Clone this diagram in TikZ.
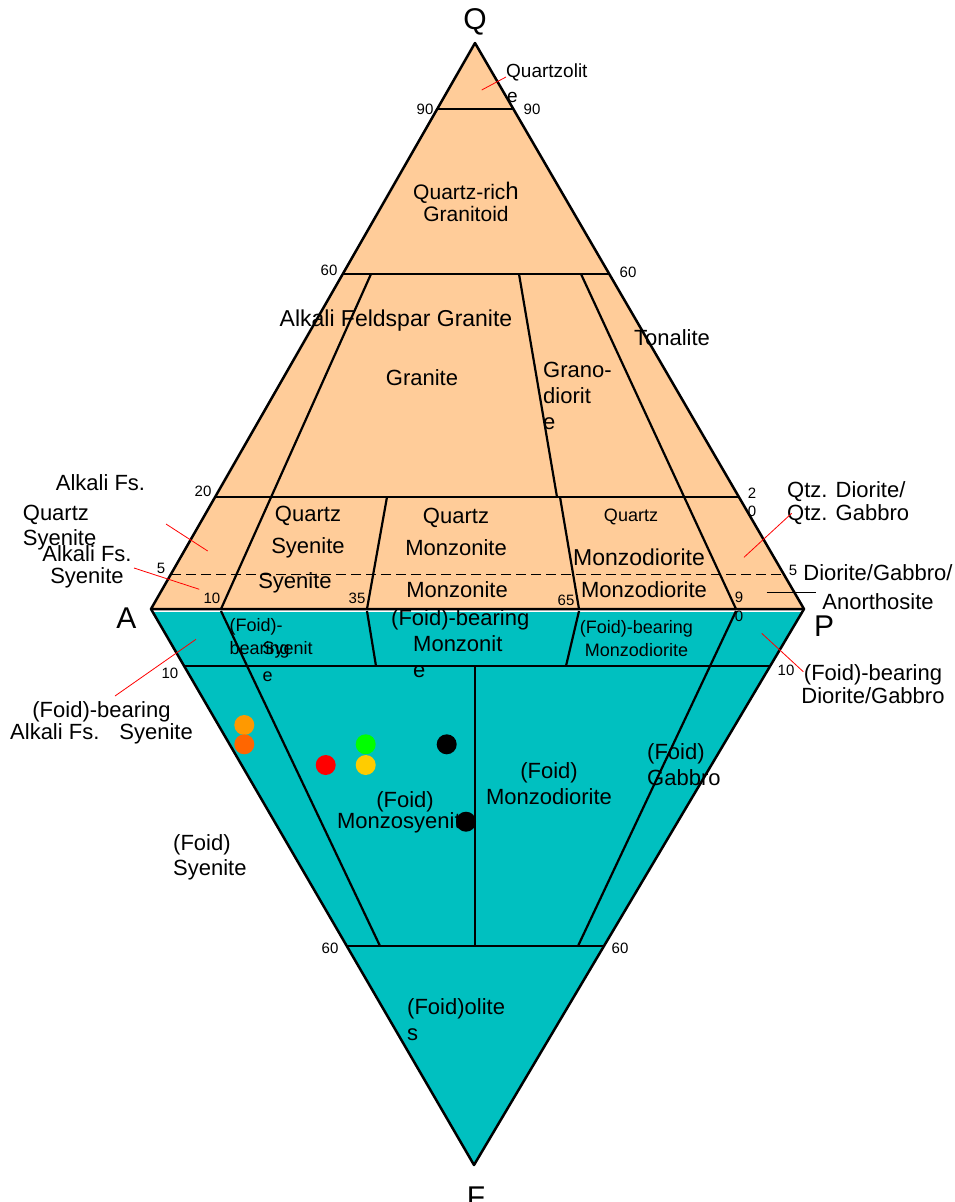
\documentclass[tikz,border=0pt]{standalone}
\usepackage{fontspec}
\setmainfont{Liberation Sans}
\usetikzlibrary{calc}
\definecolor{qfill}{HTML}{FFCC99}
\definecolor{ffill}{HTML}{00C0C0}
\definecolor{smpA}{HTML}{FF9900}
\definecolor{smpB}{HTML}{FF6600}
\definecolor{smpC}{HTML}{FF0000}
\definecolor{smpD}{HTML}{00FF00}
\definecolor{smpE}{HTML}{FFCC00}

\begin{document}
\begin{tikzpicture}[
    x=1pt, y=-1pt,
    lbl/.style={font=\fontsize{22}{26}\selectfont, inner sep=0pt, align=center},
    sml/.style={font=\fontsize{18}{22}\selectfont, inner sep=0pt, align=center},
    num/.style={font=\fontsize{15}{17}\selectfont, inner sep=0pt, align=center},
    vtx/.style={font=\fontsize{30}{32}\selectfont, inner sep=0pt},
    edge/.style={line width=2.5pt, line join=round},
    bnd/.style={line width=2.2pt},
    leader/.style={red, line width=0.8pt},
    smp/.style={circle, minimum size=20pt, inner sep=0pt}
]
\useasboundingbox (0,0) rectangle (955,1202);

% corners
\coordinate (Q) at (475,43);
\coordinate (A) at (151,609);
\coordinate (P) at (804,609);
\coordinate (F) at (474,1165);

% fills
\fill[ffill, shift={(2.5,0.8)}] (A) -- (P) -- (F) -- cycle;
\fill[ffill] (A) -- (P) -- (F) -- cycle;
\fill[qfill] (Q) -- (A) -- (P) -- cycle;
\draw[white, line width=1.8pt] ([yshift=-2.1pt]A) -- ([yshift=-2.1pt]P);

% Q fields
\draw[bnd] ($(A)!0.8834!(Q)$) -- ($(P)!0.8834!(Q)$);
\draw[bnd] ($(A)!0.5919!(Q)$) -- ($(P)!0.5919!(Q)$);
\draw[bnd] ($(A)!0.1979!(Q)$) -- ($(P)!0.1979!(Q)$);
\draw[dashed, dash pattern=on 10pt off 5pt, line width=0.9pt] ($(A)!0.0618!(Q)$) -- ($(P)!0.0618!(Q)$);
\draw[bnd] (371,274) -- (221,609);
\draw[bnd] (519,274) -- (557,497);
\draw[bnd] (581,274) -- (736,609);
\draw[bnd] (387,497) -- (367,609);
\draw[bnd] (560,497) -- (579,609);

% F fields
\draw[bnd] ($(A)!0.1025!(F)$) -- ($(P)!0.1025!(F)$);
\draw[bnd] ($(A)!0.6061!(F)$) -- ($(P)!0.6061!(F)$);
\draw[bnd] (221,611) -- (380,946);
\draw[bnd] (367,611) -- (376,666);
\draw[bnd] (579,611) -- (566,666);
\draw[bnd] (736,611) -- (578,946);
\draw[bnd] (475,666) -- (475,946);

% outlines
\draw[edge] (Q) -- (A) -- (P) -- cycle;
\draw[edge] (A) -- (F) -- (P);

% corner letters
\node[vtx] (lQ) at (475,22) {Q};
\node[vtx] (lA) at (126.5,618) {A};
\node[vtx] (lP) at (824,626) {P};
\node[vtx] (lF) at (476,1197) {F};

% scale numbers
\node[num] (n90l) at (425,109.5) {90};
\node[num] (n90r) at (532,109.5) {90};
\node[num] (n60l) at (329,270.5) {60};
\node[num] (n60r) at (628,272) {60};
\node[num] (n20l) at (203,491) {20};
\node[num] (n20r) at (752,502.5) {2\\[1.4pt]0};
\node[num] (n5l) at (161,568) {5};
\node[num] (n5r) at (793,570) {5};
\node[num] (n10a) at (212,598) {10};
\node[num] (n35) at (357,598) {35};
\node[num] (n65) at (566,600) {65};
\node[num] (n90b) at (739,607) {9\\[2pt]0};
\node[num] (n10l) at (170,673) {10};
\node[num] (n10r) at (786,670) {10};
\node[num] (n60bl) at (330,948) {60};
\node[num] (n60br) at (620,948) {60};

% field names, upper triangle
\node[sml, font=\fontsize{19}{22}\selectfont, anchor=west] (qzl) at (506,72) {Quartzolit};
\node[sml, font=\fontsize{19}{22}\selectfont, anchor=west] (qzle) at (507,97) {e};
\node[lbl, font=\fontsize{21}{24}\selectfont] (qrg) at (466,202) {Quartz-ric{\fontsize{24}{24}\selectfont h}\\[-2pt]Granitoid};
\node[lbl, font=\fontsize{23}{26}\selectfont] (afg) at (396,321) {Alkali Feldspar Granite};
\node[lbl] (gra) at (422,378) {Granite};
\node[lbl, align=left, anchor=west] (grd) at (543,396) {Grano-\\diorit\\e};
\node[lbl] (ton) at (672,338) {Tonalite};
\node[lbl] (qsy) at (308,532) {Quartz\\[6pt]Syenite};
\node[lbl] (sye) at (295,583) {Syenite};
\node[lbl] (qmo) at (456,532) {Quartz\\[6pt]Monzonite};
\node[lbl] (mon) at (457,590) {Monzonite};
\node[sml] (qmd) at (631,517) {Quartz};
\node[lbl, font=\fontsize{23}{26}\selectfont] (qmd2) at (639,557) {Monzodiorite};
\node[lbl] (mdi) at (644,590) {Monzodiorite};

% side labels
\node[lbl, align=left, anchor=west] (afqs) at (22.7,512) {\hspace*{33pt}Alkali Fs.\\[4pt]Quartz\\[-1pt]Syenite};
\node[lbl] (afs) at (87,567) {Alkali Fs.\\[-4pt]Syenite};
\node[lbl, align=left, anchor=west] (qdi) at (787,503) {Qtz. Diorite/\\[-2.5pt]Qtz. Gabbro};
\node[lbl] (dga) at (878,587) {Diorite/Gabbro/\\[2.7pt]Anorthosite};
\node[lbl] (fbafs) at (101.5,723) {(Foid)-bearing\\[-3.7pt]Alkali Fs.\hspace{20pt}Syenite};
\node[lbl] (fbdg) at (873,684) {(Foid)-bearing\\[-3pt]Diorite/Gabbro};

% field names, lower triangle
\node[sml, align=left, anchor=west] (fbs1) at (229.5,638.3) {(Foid)-\\[1.3pt]bearing};
\node[sml, align=left, anchor=west] (fbs2) at (262.5,661.5) {Syenit\\[5pt]e};
\node[lbl, align=left, anchor=west] (fbm) at (391,644) {(Foid)-bearing\\\hspace*{22pt}Monzonit\\\hspace*{22pt}e};
\node[sml] (fbmd) at (636.5,638.3) {(Foid)-bearing\\[1.3pt]Monzodiorite};
\node[lbl, align=left, anchor=west] (fsy) at (173,857.5) {(Foid)\\[-1pt]Syenite};
\node[lbl] (fms) at (405,812.5) {(Foid)\\[-4.4pt]Monzosyenite};
\node[lbl] (fmd) at (549,783.3) {(Foid)\\Monzodiorite};
\node[lbl, align=left, anchor=west] (fgb) at (647,765) {(Foid)\\Gabbro};
\node[lbl, align=left, anchor=west] (fol) at (407,1020) {(Foid)olite\\s};

% leaders
\coordinate (pQz) at (481.7,90);
\coordinate (pAFQS) at (207.7,551);
\coordinate (tAFQS) at (166,524);
\coordinate (pAFS) at (199.3,589.3);
\coordinate (tAFS) at (134,568);
\coordinate (pQD) at (744,557.3);
\coordinate (tQD) at (791.7,513.3);
\coordinate (pDGA) at (766.7,592.7);
\coordinate (tDGA) at (816,592.7);
\coordinate (pFAFS) at (196,639.3);
\coordinate (tFAFS) at (115,696);
\coordinate (pFDG) at (761.7,633.3);
\coordinate (tFDG) at (803.3,671.7);
\draw[leader] (pQz) -- ([yshift=-5pt]qzl.west);
\draw[leader] (pAFQS) -- (tAFQS);
\draw[leader] (pAFS) -- (tAFS);
\draw[leader] (pQD) -- (tQD);
\draw[line width=0.8pt] (pDGA) -- (tDGA);
\draw[leader] (pFAFS) -- (tFAFS);
\draw[leader] (pFDG) -- (tFDG);

% samples
\node[smp, fill=smpA] (s1) at (244.3,725) {};
\node[smp, fill=smpB] (s2) at (244.3,744.3) {};
\node[smp, fill=smpC] (s3) at (325.7,765) {};
\node[smp, fill=smpD] (s4) at (365.7,744.3) {};
\node[smp, fill=smpE] (s5) at (365.7,765) {};
\node[smp, fill=black] (s6) at (446.7,744.3) {};
\node[smp, fill=black] (s7) at (466,821.7) {};
\end{tikzpicture}
\end{document}
